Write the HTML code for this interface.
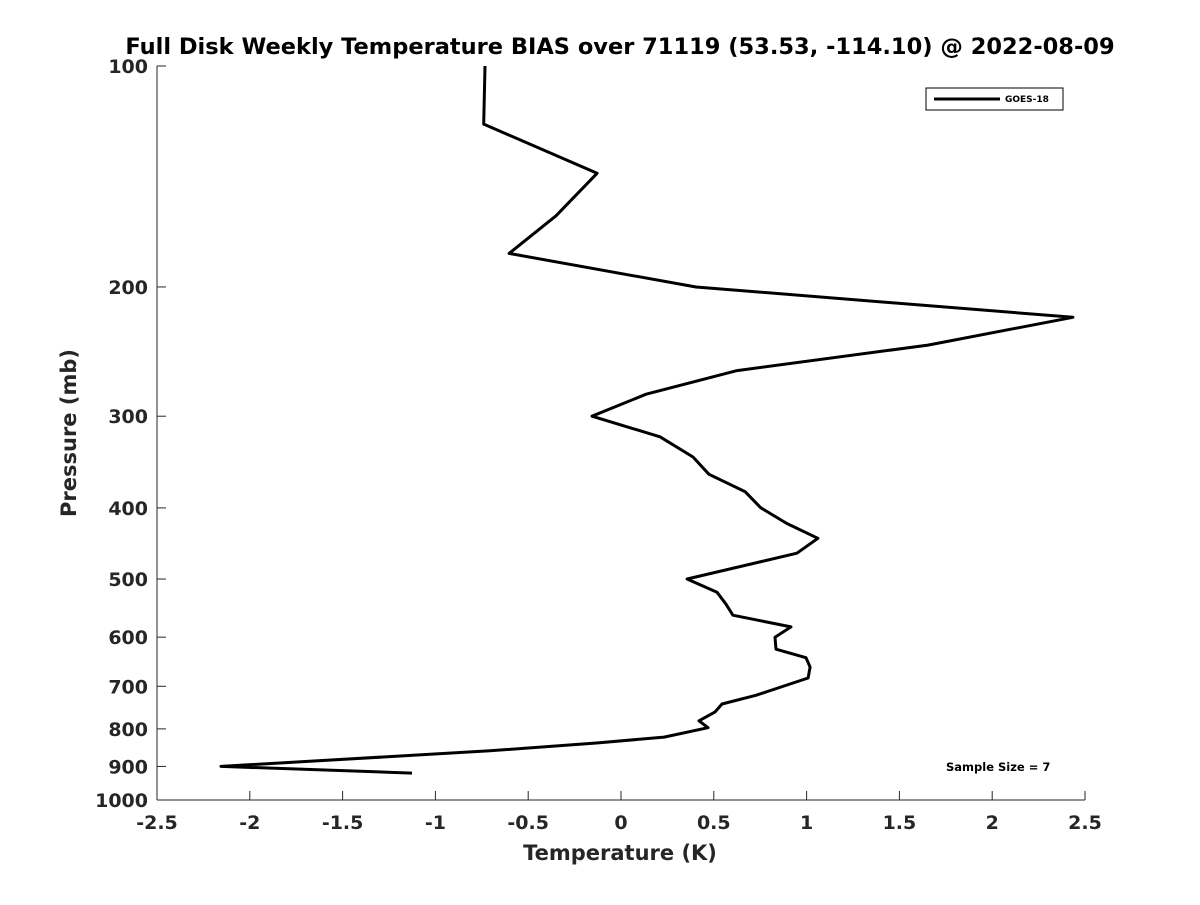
<!DOCTYPE html>
<html><head><meta charset="utf-8"><style>
body{margin:0;background:#fff;}
svg text{font-family:"DejaVu Sans","Liberation Sans",sans-serif;font-weight:bold;}
</style></head><body>
<svg id="chart" width="1200" height="900">
<text x="620" y="54" text-anchor="middle" font-size="22.5" fill="#000">Full Disk Weekly Temperature BIAS over 71119 (53.53, -114.10) @ 2022-08-09</text>
<g id="axes"></g>
<path id="series" fill="none" stroke="#000" stroke-width="3" stroke-linejoin="round"></path>
<g>
<rect x="926" y="88" width="137" height="22" fill="#fff" stroke="#000" stroke-width="1"/>
<line x1="934" y1="99" x2="1000" y2="99" stroke="#000" stroke-width="3"/>
<text x="1005" y="102" font-size="9">GOES-18</text>
</g>
<text x="946" y="771" font-size="11.5">Sample Size = 7</text>
<text x="620" y="860" text-anchor="middle" font-size="21" fill="#262626">Temperature (K)</text>
<text transform="translate(76,433) rotate(-90)" text-anchor="middle" font-size="21" fill="#262626">Pressure (mb)</text>
</svg>
<script>
const pressures=[100,120,140,160,180,200,220,240,260,280,300,320,341,360,380,400,420,440,461,500,521,541,560,581,600,623,640,659,682,720,740,759,780,797,821,836,857,900,919];
const biases=[-0.733,-0.74,-0.129,-0.35,-0.603,0.404,2.435,1.654,0.625,0.135,-0.156,0.21,0.388,0.474,0.668,0.754,0.894,1.061,0.948,0.356,0.517,0.566,0.603,0.916,0.83,0.835,0.997,1.019,1.008,0.727,0.544,0.506,0.42,0.469,0.232,-0.124,-0.706,-2.155,-1.126];
const xTicks=[-2.5,-2,-1.5,-1,-0.5,0,0.5,1,1.5,2,2.5];
const yTicks=[100,200,300,400,500,600,700,800,900,1000];
const X0=157,X1=1085,Y0=66,Y1=800;
function xs(v){return X0+(v+2.5)/5*(X1-X0);}
function ys(p){return Y0+(Math.log10(p)-2)*(Y1-Y0);}
const NS="http://www.w3.org/2000/svg";
const ax=document.getElementById('axes');
function mk(t,a){const e=document.createElementNS(NS,t);for(const k in a)e.setAttribute(k,a[k]);ax.appendChild(e);return e;}
let l=mk('line',{x1:X0,y1:Y1,x2:X1,y2:Y1,stroke:'#262626','stroke-width':1});


l=mk('line',{x1:X0,y1:Y0,x2:X0,y2:Y1,stroke:'#262626','stroke-width':1});


xTicks.forEach(v=>{
 const x=xs(v);
 mk('line',{x1:x,y1:Y1,x2:x,y2:Y1-9,stroke:'#262626'});
 const t=mk('text',{x:x,y:Y1+29,'text-anchor':'middle','font-size':19,fill:'#262626'});
 t.textContent=String(v);
 
 
});
yTicks.forEach(p=>{
 const y=ys(p);
 mk('line',{x1:X0,y1:y,x2:X0+9,y2:y,stroke:'#262626'});
 const t=mk('text',{x:X0-9,y:y+7,'text-anchor':'end','font-size':19,fill:'#262626'});
 t.textContent=String(p);
 
 
});
document.getElementById('series').setAttribute('d',pressures.map((p,i)=>(i?'L':'M')+xs(biases[i]).toFixed(1)+','+ys(p).toFixed(1)).join(' '));
</script>
</body></html>
